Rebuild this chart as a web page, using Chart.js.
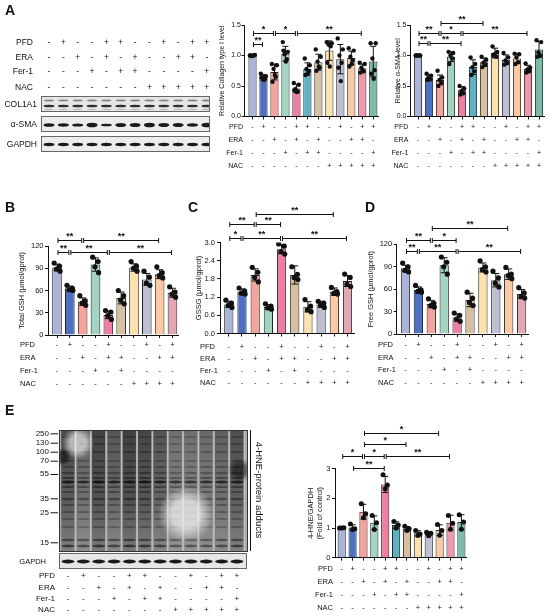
<!DOCTYPE html>
<html>
<head>
<meta charset="utf-8">
<script src="https://cdn.jsdelivr.net/npm/chart.js@4.4.1/dist/chart.umd.min.js"></script>
<style>
  html, body { margin: 0; padding: 0; background: #fff; }
  #page { position: relative; width: 550px; height: 616px; overflow: hidden; }
  #page canvas { position: absolute; }
</style>
</head>
<body>
<div id="page">
  <canvas id="blots" width="550" height="616" style="left:0;top:0"></canvas>
</div>
<script>
// ---- treatment tables ----
const rowNames = ['PFD', 'ERA', 'Fer-1', 'NAC'];
const pfd12 = ['-','+','-','-','+','+','-','-','+','-','+','+'];
const era12 = ['-','-','+','-','+','-','+','-','-','+','+','-'];
const fer12 = ['-','-','-','+','-','+','+','-','-','-','-','+'];
const nac12 = ['-','-','-','-','-','-','-','+','+','+','+','+'];
const pfd10 = ['-','+','-','-','+','-','-','+','-','+'];
const era10 = ['-','-','+','-','+','+','-','-','+','+'];
const fer10 = ['-','-','-','+','-','+','-','-','-','-'];
const nac10 = ['-','-','-','-','-','-','+','+','+','+'];
const kdaMarks = ['250', '130', '100', '70', '55', '35', '25', '15'];

const pal12 = ['#aab4d8','#4d70c2','#f6a39c','#a3d4bf','#ee7fa0','#5cb3c3','#d5c0a2','#fde2ae','#bebfd3','#fbc9a3','#ee97ad','#7cbaa9'];
const pal10 = ['#aab4d8','#4d70c2','#f6a39c','#a3d4bf','#ee7fa0','#d5c0a2','#fde2ae','#bebfd3','#fbc9a3','#e3a7b4'];

// ---- A: collagen I ----
const colMean = [1.00, 0.64, 0.73, 1.03, 0.46, 0.78, 0.89, 1.08, 0.94, 0.96, 0.79, 0.90];
const colSd   = [0.01, 0.05, 0.13, 0.12, 0.07, 0.10, 0.13, 0.16, 0.24, 0.11, 0.07, 0.25];
const colDots = [
  [1.00, 1.01, 0.99, 1.00, 1.00, 1.00], [0.70, 0.66, 0.63, 0.61, 0.64, 0.60],
  [0.86, 0.84, 0.78, 0.65, 0.57, 0.68], [1.22, 1.06, 1.02, 0.94, 1.08, 0.90],
  [0.55, 0.52, 0.45, 0.41, 0.43, 0.40], [0.95, 0.84, 0.78, 0.74, 0.68, 0.70],
  [1.10, 0.98, 0.90, 0.80, 0.75, 0.82], [1.22, 1.20, 1.18, 1.15, 0.88, 0.82],
  [1.28, 1.10, 1.00, 0.88, 0.80, 0.58], [1.12, 1.08, 0.98, 0.92, 0.82, 0.86],
  [0.88, 0.86, 0.80, 0.74, 0.72, 0.75], [1.20, 1.20, 0.95, 0.76, 0.70, 0.62]
];
const colSig = [[0, 2, '*', 0], [2, 4, '*', 0], [4, 10, '**', 0], [0, 1, '**', 1]];

// ---- A: alpha-SMA ----
const smaMean = [1.00, 0.64, 0.60, 0.98, 0.43, 0.81, 0.89, 1.04, 0.93, 0.95, 0.78, 1.10];
const smaSd   = [0.01, 0.05, 0.08, 0.08, 0.06, 0.12, 0.07, 0.08, 0.08, 0.08, 0.06, 0.13];
const smaDots = [
  [1.00, 1.00, 1.00, 1.00, 1.00], [0.70, 0.67, 0.64, 0.61, 0.60],
  [0.75, 0.64, 0.60, 0.55, 0.50], [1.06, 1.04, 1.00, 0.95, 0.86],
  [0.50, 0.46, 0.42, 0.38, 0.36], [0.97, 0.86, 0.81, 0.74, 0.68],
  [0.98, 0.93, 0.88, 0.85, 0.81], [1.15, 1.06, 1.02, 0.98, 1.00],
  [1.04, 0.97, 0.92, 0.88, 0.85], [1.03, 1.02, 0.97, 0.89, 0.86],
  [0.87, 0.80, 0.77, 0.74, 0.72], [1.25, 1.22, 1.05, 1.00, 0.98]
];
const smaSig = [[2, 6, '**', 0], [0, 2, '**', 1], [2, 4, '*', 1], [4, 10, '**', 1], [0, 1, '**', 2], [1, 4, '**', 2]];

// ---- B: total GSH ----
const tgshMean = [91, 63, 45, 95, 27, 50, 91, 75, 82, 57];
const tgshSd   = [4.5, 3, 5, 9, 5, 8, 5, 8, 6, 6];
const tgshDots = [[97, 93, 89, 86], [67, 63, 61, 60], [53, 46, 43, 40], [105, 99, 92, 84], [33, 31, 26, 21],
                  [60, 53, 47, 42], [99, 93, 90, 86], [86, 78, 70, 67], [92, 84, 80, 77], [65, 58, 55, 51]];
const tgshSig = [[0, 2, '**', 0], [2, 8, '**', 0], [0, 1, '**', 1], [1, 4, '**', 1], [4, 9, '**', 1]];

// ---- C: GSSG ----
const gssgMean = [0.96, 1.38, 1.93, 0.87, 2.78, 1.93, 0.88, 0.96, 1.38, 1.73];
const gssgSd   = [0.10, 0.09, 0.20, 0.08, 0.15, 0.30, 0.17, 0.10, 0.12, 0.18];
const gssgDots = [[1.10, 1.00, 0.93, 0.86], [1.50, 1.40, 1.33, 1.30], [2.18, 2.02, 1.85, 1.70], [0.98, 0.90, 0.84, 0.80],
                  [2.95, 2.88, 2.70, 2.62], [2.20, 1.95, 1.84, 1.78], [1.12, 0.90, 0.78, 0.72], [1.06, 1.00, 0.94, 0.86],
                  [1.52, 1.38, 1.32, 1.30], [1.96, 1.85, 1.62, 1.55]];
const gssgSig = [[2, 8, '**', 0], [0, 2, '**', 1], [2, 4, '**', 1], [0, 1, '*', 2], [1, 4, '**', 2], [4, 9, '**', 2]];

// ---- D: free GSH ----
const fgshMean = [88, 59, 40, 92, 22, 45.5, 89, 72, 80, 53.5];
const fgshSd   = [4, 4, 5, 10, 5, 9, 6, 9, 7, 6];
const fgshDots = [[95, 90, 85, 83], [65, 59, 57, 56], [47, 41, 38, 36], [103, 96, 90, 80], [28, 25, 20, 17],
                  [56, 48, 42, 38], [98, 90, 86, 83], [84, 75, 68, 63], [89, 80, 78, 74], [62, 55, 50, 48]];
const fgshSig = [[2, 8, '**', 0], [0, 2, '**', 1], [2, 4, '*', 1], [0, 1, '**', 2], [1, 4, '**', 2], [4, 9, '**', 2]];

// ---- E: 4-HNE / GAPDH ----
const hneMean = [1.01, 1.02, 1.55, 1.18, 2.47, 1.10, 0.98, 0.82, 0.80, 0.93, 1.18, 1.20];
const hneSd   = [0.01, 0.09, 0.25, 0.23, 0.27, 0.11, 0.07, 0.09, 0.06, 0.18, 0.25, 0.25];
const hneDots = [[1.00, 1.01, 1.00], [1.14, 0.98, 0.95], [1.82, 1.48, 1.35], [1.42, 1.18, 0.95],
                 [2.80, 2.45, 2.32], [1.22, 1.10, 1.00], [1.06, 0.98, 0.92], [0.92, 0.80, 0.75],
                 [0.86, 0.82, 0.74], [1.12, 0.92, 0.76], [1.42, 1.16, 0.96], [1.45, 1.20, 0.96]];
const hneSig = [[2, 9, '*', 0], [2, 6, '*', 1], [0, 2, '*', 2], [2, 4, '*', 2], [4, 10, '**', 2], [1, 4, '**', 3]];

const FONT = '"Liberation Sans", Arial, Helvetica, sans-serif';
// horizontal spread of the replicate dots inside a bar (in category units)
const JIT = {3: [-0.2, 0.2, 0.0], 4: [-0.22, 0.2, -0.04, 0.24],
             5: [-0.22, 0.2, -0.05, 0.12, -0.15], 6: [-0.24, 0.22, -0.08, 0.12, -0.18, 0.04]};

function sigChart(o) {
  const [L, T, W, H] = o.box;
  const cv = document.createElement('canvas');
  cv.width = W; cv.height = H;
  cv.style.left = L + 'px'; cv.style.top = T + 'px';
  cv.style.width = W + 'px'; cv.style.height = H + 'px';
  document.getElementById('page').appendChild(cv);

  const n = o.mean.length;
  const gap = (o.c1 - o.axis) / o.s;
  const xe = o.c1 + (n - 0.5) * o.s;
  const dots = [];
  o.dots.forEach((arr, i) => arr.forEach((v, j) => dots.push({x: i + JIT[arr.length][j], y: v})));
  const lh = o.titleSize * 1.2;

  const extras = {
    id: 'extras',
    afterDatasetDraw(chart, args) {
      if (args.index !== 0) return;
      const {ctx, scales: {x, y}} = chart;
      ctx.save();
      ctx.strokeStyle = '#111'; ctx.lineWidth = 1;
      o.mean.forEach((m, i) => {
        const px = x.getPixelForValue(i);
        const hi = y.getPixelForValue(m + o.sd[i]), lo = y.getPixelForValue(Math.max(m - o.sd[i], 0));
        ctx.beginPath();
        ctx.moveTo(px, hi); ctx.lineTo(px, lo);
        ctx.moveTo(px - o.cap, hi); ctx.lineTo(px + o.cap, hi);
        ctx.moveTo(px - o.cap, lo); ctx.lineTo(px + o.cap, lo);
        ctx.stroke();
      });
      ctx.restore();
    },
    afterDraw(chart) {
      const {ctx, chartArea, scales: {x}} = chart;
      ctx.save();
      ctx.fillStyle = '#111'; ctx.strokeStyle = '#111'; ctx.lineWidth = 1;
      o.sig.forEach(([a, b, lab, tier]) => {
        const xa = x.getPixelForValue(a) + 1, xb = x.getPixelForValue(b) - 1;
        const yy = Math.round(chartArea.top + o.tiers[tier]) + 0.5;
        ctx.beginPath();
        ctx.moveTo(xa, yy); ctx.lineTo(xb, yy);
        ctx.moveTo(xa, yy - 2.5); ctx.lineTo(xa, yy + 2.5);
        ctx.moveTo(xb, yy - 2.5); ctx.lineTo(xb, yy + 2.5);
        ctx.stroke();
        ctx.font = 'bold 9px ' + FONT;
        ctx.textAlign = 'center'; ctx.textBaseline = 'alphabetic';
        ctx.fillText(lab, (xa + xb) / 2, yy - 1.5);
      });
      ctx.font = o.tickSize + 'px ' + FONT;
      ctx.textAlign = o.rowAlign; ctx.textBaseline = 'middle';
      rowNames.forEach((nm, i) =>
        ctx.fillText(nm, o.rowX - L, chartArea.bottom + 3 + o.tickPad + o.rowH * (i + 0.5)));
      ctx.restore();
    }
  };

  return new Chart(cv, {
    type: 'bar',
    data: {
      datasets: [
        {
          type: 'bar',
          data: o.mean.map((m, i) => ({x: i, y: m})),
          backgroundColor: o.colors,
          borderColor: '#222',
          borderWidth: 1,
          barPercentage: o.barPct,
          categoryPercentage: 1,
          order: 2,
        },
        {
          type: 'scatter',
          data: dots,
          pointRadius: o.dotR,
          pointHoverRadius: o.dotR,
          pointBackgroundColor: '#111',
          pointBorderWidth: 0,
          order: 1,
        }
      ]
    },
    options: {
      responsive: false,
      animation: false,
      events: [],
      layout: { padding: { left: 0, top: o.top - T, right: L + W - xe, bottom: 0 } },
      plugins: { legend: { display: false }, tooltip: { enabled: false } },
      scales: {
        x: {
          type: 'linear', min: -gap, max: n - 0.5, offset: false,
          afterFit: s => { s.height = T + H - o.bot; },
          grid: { drawOnChartArea: false, offset: false, tickLength: 3, color: '#111' },
          border: { color: '#111', width: 1 },
          ticks: {
            stepSize: 1, includeBounds: false, autoSkip: false, maxRotation: 0,
            padding: o.tickPad, color: '#111',
            font: { family: FONT, size: o.tickSize, lineHeight: o.rowH + 'px' },
            callback: v => Number.isInteger(v) ? o.rows.map(r => r[v]) : ''
          }
        },
        y: {
          min: 0, max: o.yMax,
          afterFit: s => { s.width = o.axis - L; },
          grid: { drawOnChartArea: false, tickLength: 3, color: '#111' },
          border: { color: '#111', width: 1 },
          ticks: {
            stepSize: o.step, padding: o.yPad, color: '#111',
            font: { family: FONT, size: o.tickSize },
            callback: v => v.toFixed(o.dec)
          },
          title: {
            display: true, text: o.title, color: '#111',
            font: { family: FONT, size: o.titleSize, lineHeight: 1.2 },
            padding: { top: o.titleX - L - lh / 2, bottom: 0 }
          }
        }
      }
    },
    plugins: [extras]
  });
}

const rows12 = [pfd12, era12, fer12, nac12];
const rows10 = [pfd10, era10, fer10, nac10];

sigChart({ box: [200, 0, 182, 175], axis: 244.5, c1: 252.5, s: 10.98, top: 25, bot: 116.5,
  mean: colMean, sd: colSd, dots: colDots, sig: colSig, tiers: [8, 18.5], colors: pal12, rows: rows12,
  yMax: 1.5, step: 0.5, dec: 1, title: 'Relative Collagen type I level', titleX: 221.7, titleSize: 7,
  tickSize: 7, yPad: 0.5, tickPad: 0.7, rowH: 13, rowX: 243, rowAlign: 'right', barPct: 0.75, cap: 3, dotR: 2.2 });

sigChart({ box: [385, 0, 165, 175], axis: 410, c1: 418, s: 11, top: 25, bot: 116.5,
  mean: smaMean, sd: smaSd, dots: smaDots, sig: smaSig, tiers: [-2, 8, 18], colors: pal12, rows: rows12,
  yMax: 1.5, step: 0.5, dec: 1, title: 'Relative α-SMA level', titleX: 397.7, titleSize: 7,
  tickSize: 7, yPad: 0.5, tickPad: 0.7, rowH: 13, rowX: 408.3, rowAlign: 'right', barPct: 0.75, cap: 3, dotR: 2.2 });

sigChart({ box: [0, 195, 185, 195], axis: 48, c1: 57, s: 12.83, top: 246, bot: 335,
  mean: tgshMean, sd: tgshSd, dots: tgshDots, sig: tgshSig, tiers: [-6, 6], colors: pal10, rows: rows10,
  yMax: 120, step: 30, dec: 0, title: 'Total GSH (μmol/gprot)', titleX: 21.7, titleSize: 7.5,
  tickSize: 7.5, yPad: 1.5, tickPad: 0.5, rowH: 13, rowX: 20, rowAlign: 'left', barPct: 0.75, cap: 3.5, dotR: 2.6 });

sigChart({ box: [185, 195, 175, 195], axis: 220, c1: 228.8, s: 13.19, top: 242.5, bot: 333.5,
  mean: gssgMean, sd: gssgSd, dots: gssgDots, sig: gssgSig, tiers: [-28.5, -18.3, -4.3], colors: pal10, rows: rows10,
  yMax: 3, step: 0.6, dec: 1, title: 'GSSG (μmol/gprot)', titleX: 199, titleSize: 7.5,
  tickSize: 7.5, yPad: 2, tickPad: 4, rowH: 12.2, rowX: 200, rowAlign: 'left', barPct: 0.7, cap: 3.5, dotR: 2.6 });

sigChart({ box: [365, 195, 185, 195], axis: 396.7, c1: 405.5, s: 12.9, top: 244.3, bot: 334,
  mean: fgshMean, sd: fgshSd, dots: fgshDots, sig: fgshSig, tiers: [-16.5, -4.3, 6.4], colors: pal10, rows: rows10,
  yMax: 120, step: 30, dec: 0, title: 'Free GSH (μmol/gprot)', titleX: 370.5, titleSize: 7.5,
  tickSize: 7.5, yPad: 1.5, tickPad: 1.6, rowH: 12.7, rowX: 378, rowAlign: 'left', barPct: 0.72, cap: 3.5, dotR: 2.6 });

sigChart({ box: [290, 400, 190, 216], axis: 335, c1: 341.7, s: 10.88, top: 468.7, bot: 557.7,
  mean: hneMean, sd: hneSd, dots: hneDots, sig: hneSig, tiers: [-35.4, -24.7, -13, -1], colors: pal12, rows: rows12,
  yMax: 3, step: 1, dec: 0, title: ['4-HNE/GAPDH', '(Fold of control)'], titleX: 311, titleSize: 7.5,
  tickSize: 7.5, yPad: 1.5, tickPad: 1.8, rowH: 12.9, rowX: 333, rowAlign: 'right', barPct: 0.75, cap: 3, dotR: 2.5 });

// ---- western blot panels (plain canvas drawing) ----
function drawBlots() {
  const ctx = document.getElementById('blots').getContext('2d');
  ctx.fillStyle = '#111';
  ctx.font = 'bold 14px ' + FONT;
  ctx.textBaseline = 'alphabetic';
  [['A', 5, 15], ['B', 5, 212], ['C', 188, 212], ['D', 365, 212], ['E', 5, 415]]
    .forEach(([t, x, y]) => ctx.fillText(t, x, y));

  function table(rows, labelX, ys, laneX, size) {
    ctx.fillStyle = '#111';
    ctx.font = size + 'px ' + FONT;
    ctx.textBaseline = 'middle';
    rows.forEach((r, k) => {
      ctx.textAlign = 'right';
      ctx.fillText(rowNames[k], labelX, ys[k]);
      ctx.textAlign = 'center';
      r.forEach((s, i) => ctx.fillText(s, laneX(i), ys[k]));
    });
  }
  function band(x, y, w, h, a) {
    ctx.save();
    ctx.filter = 'blur(0.6px)';
    ctx.fillStyle = 'rgba(15,15,15,' + a + ')';
    ctx.beginPath();
    ctx.ellipse(x, y, w / 2, h / 2, 0, 0, Math.PI * 2);
    ctx.fill();
    ctx.restore();
  }
  function panel(x, y, w, h, fill) {
    ctx.fillStyle = fill;
    ctx.fillRect(x, y, w, h);
    ctx.strokeStyle = '#666'; ctx.lineWidth = 1;
    ctx.strokeRect(x + 0.5, y + 0.5, w - 1, h - 1);
  }

  // A blots
  const aX = i => 49 + i * 14.35;
  table(rows12, 33, [43, 58, 72, 87.5], aX, 8.5);
  panel(41, 96, 169, 16, '#e6e6e6');
  panel(41, 116, 169, 16, '#ececec');
  panel(41, 136, 169, 16, '#ececec');
  const smaH = [3.6, 3.4, 3.0, 4.6, 2.6, 4.0, 4.0, 4.6, 4.0, 4.0, 3.4, 4.6];
  ctx.save();
  ctx.beginPath(); ctx.rect(42, 97, 167, 54); ctx.clip();
  for (let i = 0; i < 12; i++) {
    band(aX(i), 100.5, 10, 1.8, 0.45);
    band(aX(i), 106, 11, 2.6, 0.85);
    band(aX(i), 109.5, 10, 1.2, 0.25);
    band(aX(i), 125, 11, smaH[i], 0.95);
    band(aX(i), 144.5, 11, 3.4, 0.95);
  }
  ctx.restore();
  ctx.fillStyle = '#111';
  ctx.font = '8.5px ' + FONT; ctx.textAlign = 'right'; ctx.textBaseline = 'middle';
  ctx.fillText('COL1A1', 37, 105);
  ctx.fillText('α-SMA', 37, 125);
  ctx.fillText('GAPDH', 37, 145);

  // E blot
  const eX = i => 68 + i * 15.36;
  const laneDark = [0.55, 0.4, 0.6, 0.46, 0.62, 0.58, 0.48, 0.3, 0.3, 0.34, 0.4, 0.52];
  const smear = [[437, 2, 0.3], [444, 2, 0.3], [452, 2, 0.35], [461, 2, 0.3], [467, 2, 0.35], [473, 2.5, 0.4],
                 [478, 2, 0.5], [482, 3, 0.85], [487, 2, 0.5], [492, 2, 0.4], [499, 2.5, 0.45], [505, 2, 0.35],
                 [512, 2, 0.35], [519, 2, 0.3], [527, 2, 0.3], [540, 2.5, 0.5], [546, 3, 0.6]];
  ctx.save();
  ctx.beginPath(); ctx.rect(59, 430, 189, 122); ctx.clip();
  ctx.fillStyle = '#adadad'; ctx.fillRect(59, 430, 189, 122);
  for (let i = 0; i < 12; i++) {
    const g = ctx.createLinearGradient(0, 430, 0, 552);
    g.addColorStop(0, 'rgba(25,25,25,' + (laneDark[i] + 0.12) + ')');
    g.addColorStop(0.6, 'rgba(25,25,25,' + laneDark[i] + ')');
    g.addColorStop(1, 'rgba(25,25,25,' + (laneDark[i] * 0.55) + ')');
    ctx.fillStyle = g;
    ctx.fillRect(eX(i) - 6.8, 430, 13.6, 122);
    ctx.fillStyle = 'rgba(255,255,255,0.22)';
    ctx.fillRect(eX(i) + 6.4, 430, 1.6, 122);
    smear.forEach(([y, h, a]) => band(eX(i), y, 13, h, a * (0.45 + laneDark[i])));
  }
  [[186, 514, 28, 'rgba(240,240,240,0.75)'], [78, 443, 16, 'rgba(240,240,240,0.65)'],
   [62, 457, 9, 'rgba(10,10,10,0.6)'], [240, 470, 12, 'rgba(10,10,10,0.5)']].forEach(([x, y, r, c]) => {
    const g = ctx.createRadialGradient(x, y, 0, x, y, r);
    g.addColorStop(0, c); g.addColorStop(0.5, c); g.addColorStop(1, c.replace(/[\d.]+\)$/, '0)'));
    ctx.fillStyle = g;
    ctx.fillRect(x - r, y - r, r * 2, r * 2);
  });
  ctx.restore();
  ctx.strokeStyle = '#333'; ctx.lineWidth = 1;
  ctx.strokeRect(59.5, 430.5, 188, 121);

  panel(59, 553, 188, 16, '#e6e6e6');
  for (let i = 0; i < 12; i++) band(eX(i), 561.5, 13, 3.8, 0.95);

  ctx.fillStyle = '#111';
  ctx.font = '8px ' + FONT; ctx.textAlign = 'right'; ctx.textBaseline = 'middle';
  const markY = [433.3, 442.7, 451.7, 460.7, 474, 498.3, 512.3, 542.3];
  ctx.strokeStyle = '#111';
  kdaMarks.forEach((m, k) => {
    ctx.fillText(m, 49, markY[k]);
    ctx.beginPath(); ctx.moveTo(50.5, markY[k] + 0.5); ctx.lineTo(58, markY[k] + 0.5); ctx.stroke();
  });
  ctx.font = '7.5px ' + FONT;
  ctx.fillText('GAPDH', 46, 561.5);
  ctx.beginPath(); ctx.moveTo(250.5, 430); ctx.lineTo(250.5, 551); ctx.stroke();
  ctx.save();
  ctx.translate(258.5, 490);
  ctx.rotate(Math.PI / 2);
  ctx.font = '9.5px ' + FONT; ctx.textAlign = 'center'; ctx.textBaseline = 'middle';
  ctx.fillText('4-HNE-protein adducts', 0, 0);
  ctx.restore();
  table(rows12, 55, [576, 588, 598.5, 610], eX, 8);
}
drawBlots();
</script>
</body>
</html>
